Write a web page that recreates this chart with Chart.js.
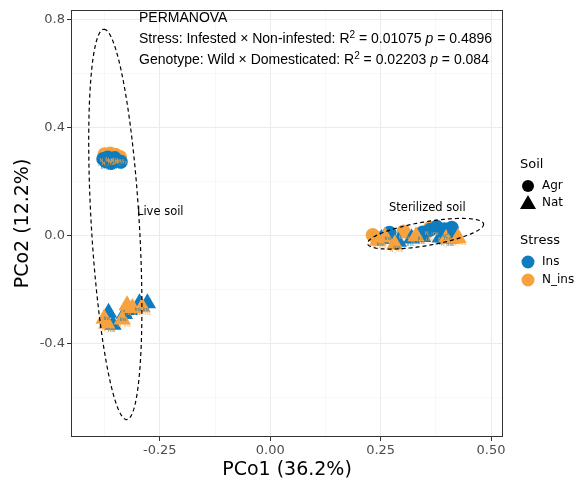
<!DOCTYPE html>
<html lang="en">
<head>
    <meta charset="UTF-8">
    <title>PCoA</title>
    <script src="https://cdn.jsdelivr.net/npm/chart.js"></script>
    <style>
        html, body { margin: 0; padding: 0; background: #fff; }
        .container_chart { width: 577px; height: 481px; }
    </style>
</head>
<body>
    <div class="container_chart">
        <canvas id="pcoaChart" width="577" height="481"></canvas>
    </div>
    <script>
        // pontos [PCo1, PCo2] por grupo
        const agrIns = [
            [-0.378, 0.285], [-0.368, 0.290], [-0.358, 0.283], [-0.348, 0.279], [-0.338, 0.274],
            [-0.372, 0.276], [-0.360, 0.270], [-0.352, 0.288],
            [0.270, 0.011], [0.345, 0.012], [0.362, 0.022], [0.377, 0.033], [0.395, 0.024],
            [0.411, 0.030], [0.405, 0.012]
        ];
        const agrNins = [
            [-0.375, 0.302], [-0.362, 0.305], [-0.350, 0.300], [-0.340, 0.292], [-0.370, 0.290],
            [-0.356, 0.296],
            [0.232, 0.003], [0.302, 0.016], [0.350, 0.006], [0.362, 0.030], [0.392, 0.008],
            [0.418, -0.002], [0.245, -0.008]
        ];
        const natIns = [
            [-0.366, -0.285], [-0.356, -0.330], [-0.318, -0.275], [-0.296, -0.250], [-0.278, -0.250],
            [-0.330, -0.290],
            [0.252, -0.012], [0.320, -0.010], [0.345, -0.005], [0.385, -0.006], [0.410, -0.010],
            [0.290, -0.022]
        ];
        const natNins = [
            [-0.376, -0.308], [-0.370, -0.325], [-0.324, -0.258], [-0.335, -0.310], [-0.312, -0.268],
            [-0.290, -0.265],
            [0.243, -0.018], [0.282, -0.032], [0.330, -0.002], [0.398, -0.012], [0.425, -0.008],
            [0.260, -0.005]
        ];

        const xTicks = [-0.25, 0, 0.25, 0.5];
        const yTicks = [0.8, 0.4, 0, -0.4];
        const xMinor = [-0.375, -0.125, 0.125, 0.375];
        const yMinor = [0.6, 0.2, -0.2, -0.6];

        const permanovaR2 = [0.01075, 0.02203];
        const permanovaP = [0.4896, 0.084];

        // elipses: centro, semi-eixo a, semi-eixo b (em unidades dos dados)
        const elipseViva = { c: [-0.3507, 0.042], a: [-0.026, 0.7235], b: [0.0543, 0.005] };
        const elipseEsteril = { c: [0.3518, 0.0074], a: [0.1312, 0.0368], b: [0.0046, -0.0434] };

        const azul = '#0E7CBF';
        const laranja = '#F7A23E';

        function toXY(lista) {
            return lista.map(p => ({ x: p[0], y: p[1] }));
        }

        function desenharElipse(ctx, chart, e) {
            const sx = chart.scales.x, sy = chart.scales.y;
            ctx.save();
            ctx.strokeStyle = '#000';
            ctx.lineWidth = 1.2;
            ctx.setLineDash([4, 3]);
            ctx.beginPath();
            for (let i = 0; i <= 200; i++) {
                const t = i / 200 * Math.PI * 2;
                const vx = e.c[0] + e.a[0] * Math.cos(t) + e.b[0] * Math.sin(t);
                const vy = e.c[1] + e.a[1] * Math.cos(t) + e.b[1] * Math.sin(t);
                const px = sx.getPixelForValue(vx), py = sy.getPixelForValue(vy);
                if (i === 0) ctx.moveTo(px, py); else ctx.lineTo(px, py);
            }
            ctx.stroke();
            ctx.restore();
        }

        function textoRico(ctx, partes, x, y) {
            let cx = x;
            partes.forEach(p => {
                ctx.font = p.font;
                ctx.fillText(p.t, cx, y + (p.dy || 0));
                cx += ctx.measureText(p.t).width;
            });
        }

        const extras = {
            id: 'extras',
            beforeDraw(chart) {
                const ctx = chart.ctx;
                ctx.save();
                ctx.fillStyle = '#fff';
                ctx.fillRect(0, 0, chart.width, chart.height);
                ctx.restore();
            },
            afterDatasetsDraw(chart) {
                const ctx = chart.ctx;
                const { left, right, top, bottom } = chart.chartArea;

                // rótulos minúsculos dos pontos
                ctx.save();
                ctx.font = '5px "DejaVu Sans"';
                ctx.textAlign = 'left';
                ctx.textBaseline = 'middle';
                chart.data.datasets.forEach((ds, i) => {
                    const meta = chart.getDatasetMeta(i);
                    ctx.fillStyle = ds.backgroundColor;
                    meta.data.forEach(pt => {
                        ctx.fillText(ds.rotulo, pt.x - 5, pt.y + 6);
                    });
                });
                ctx.restore();

                desenharElipse(ctx, chart, elipseViva);
                desenharElipse(ctx, chart, elipseEsteril);

                ctx.save();
                ctx.fillStyle = '#000';
                ctx.textBaseline = 'middle';
                ctx.font = '11.5px "DejaVu Sans"';
                ctx.fillText('Live soil', 137, 212);
                ctx.fillText('Sterilized soil', 389, 208);

                const n = '14px "Liberation Sans"';
                const it = 'italic 14px "Liberation Sans"';
                const sup = '10px "Liberation Sans"';
                textoRico(ctx, [{ t: 'PERMANOVA', font: n }], 139, 18);
                textoRico(ctx, [
                    { t: 'Stress: Infested × Non-infested: R', font: n },
                    { t: '2', font: sup, dy: -4 },
                    { t: ' = ' + permanovaR2[0] + ' ', font: n },
                    { t: 'p', font: it },
                    { t: ' = ' + permanovaP[0], font: n }
                ], 139, 39);
                textoRico(ctx, [
                    { t: 'Genotype: Wild × Domesticated: R', font: n },
                    { t: '2', font: sup, dy: -4 },
                    { t: ' = ' + permanovaR2[1] + ' ', font: n },
                    { t: 'p', font: it },
                    { t: ' = ' + permanovaP[1], font: n }
                ], 139, 60);
                ctx.restore();

                // borda do painel
                ctx.save();
                ctx.strokeStyle = '#333';
                ctx.lineWidth = 1;
                ctx.strokeRect(left + 0.5, top + 0.5, right - left - 1, bottom - top - 1);
                ctx.restore();

                // legenda
                ctx.save();
                ctx.textBaseline = 'middle';
                ctx.fillStyle = '#000';
                ctx.font = '13px "DejaVu Sans"';
                ctx.fillText('Soil', 520, 165);
                ctx.fillText('Stress', 520, 241);
                ctx.font = '12px "DejaVu Sans"';
                ctx.fillText('Agr', 542, 186);
                ctx.fillText('Nat', 542, 203);
                ctx.fillText('Ins', 542, 262);
                ctx.fillText('N_ins', 542, 280);
                ctx.beginPath();
                ctx.arc(528, 186, 6, 0, Math.PI * 2);
                ctx.fill();
                ctx.beginPath();
                ctx.moveTo(528, 195);
                ctx.lineTo(536, 209);
                ctx.lineTo(520, 209);
                ctx.closePath();
                ctx.fill();
                ctx.fillStyle = azul;
                ctx.beginPath();
                ctx.arc(528, 262, 6.5, 0, Math.PI * 2);
                ctx.fill();
                ctx.fillStyle = laranja;
                ctx.beginPath();
                ctx.arc(528, 280, 6.5, 0, Math.PI * 2);
                ctx.fill();
                ctx.restore();
            }
        };

        function corGrade(ctx, principais) {
            return principais.includes(ctx.tick.value) ? '#EBEBEB' : '#F4F4F4';
        }

        new Chart(document.getElementById('pcoaChart'), {
            type: 'scatter',
            data: {
                datasets: [
                    { label: 'Agr Ins', rotulo: 'Ins', data: toXY(agrIns), backgroundColor: azul, pointStyle: 'circle', radius: 7, order: 2 },
                    { label: 'Agr N_ins', rotulo: 'N_ins', data: toXY(agrNins), backgroundColor: laranja, pointStyle: 'circle', radius: 7, order: 3 },
                    { label: 'Nat Ins', rotulo: 'Ins', data: toXY(natIns), backgroundColor: azul, pointStyle: 'triangle', radius: 10, order: 1 },
                    { label: 'Nat N_ins', rotulo: 'N_ins', data: toXY(natNins), backgroundColor: laranja, pointStyle: 'triangle', radius: 10, order: 0 }
                ]
            },
            options: {
                responsive: false,
                animation: false,
                layout: { padding: { top: 7, right: 74, left: 0, bottom: 0 } },
                elements: { point: { borderWidth: 0, hoverRadius: 7 } },
                plugins: { legend: { display: false }, tooltip: { enabled: false } },
                scales: {
                    x: {
                        type: 'linear',
                        min: -0.451,
                        max: 0.527,
                        afterBuildTicks: s => { s.ticks = [...xTicks, ...xMinor].sort((a, b) => a - b).map(v => ({ value: v })); },
                        afterFit: s => { s.height = 44; },
                        border: { display: false },
                        grid: {
                            color: c => corGrade(c, xTicks),
                            lineWidth: c => xTicks.includes(c.tick.value) ? 1 : 0.6,
                            tickColor: c => xTicks.includes(c.tick.value) ? '#333' : 'rgba(0,0,0,0)',
                            tickLength: 4
                        },
                        ticks: {
                            padding: 2,
                            maxRotation: 0,
                            autoSkip: false,
                            color: '#4D4D4D',
                            font: { family: 'DejaVu Sans', size: 13 },
                            callback: v => xTicks.includes(v) ? v.toFixed(2) : ''
                        },
                        title: {
                            display: true,
                            text: 'PCo1 (36.2%)',
                            color: '#000',
                            font: { family: 'DejaVu Sans', size: 19 },
                            padding: { top: 0, bottom: 0 }
                        }
                    },
                    y: {
                        type: 'linear',
                        min: -0.746,
                        max: 0.837,
                        afterBuildTicks: s => { s.ticks = [...yTicks, ...yMinor].sort((a, b) => a - b).map(v => ({ value: v })); },
                        afterFit: s => { s.width = 71; },
                        border: { display: false },
                        grid: {
                            color: c => corGrade(c, yTicks),
                            lineWidth: c => yTicks.includes(c.tick.value) ? 1 : 0.6,
                            tickColor: c => yTicks.includes(c.tick.value) ? '#333' : 'rgba(0,0,0,0)',
                            tickLength: 4
                        },
                        ticks: {
                            padding: 2,
                            autoSkip: false,
                            color: '#4D4D4D',
                            font: { family: 'DejaVu Sans', size: 13 },
                            callback: v => yTicks.includes(v) ? v.toFixed(1) : ''
                        },
                        title: {
                            display: true,
                            text: 'PCo2 (12.2%)',
                            color: '#000',
                            font: { family: 'DejaVu Sans', size: 19 },
                            padding: { top: 12, bottom: 0 }
                        }
                    }
                }
            },
            plugins: [extras]
        });
    </script>
</body>
</html>
